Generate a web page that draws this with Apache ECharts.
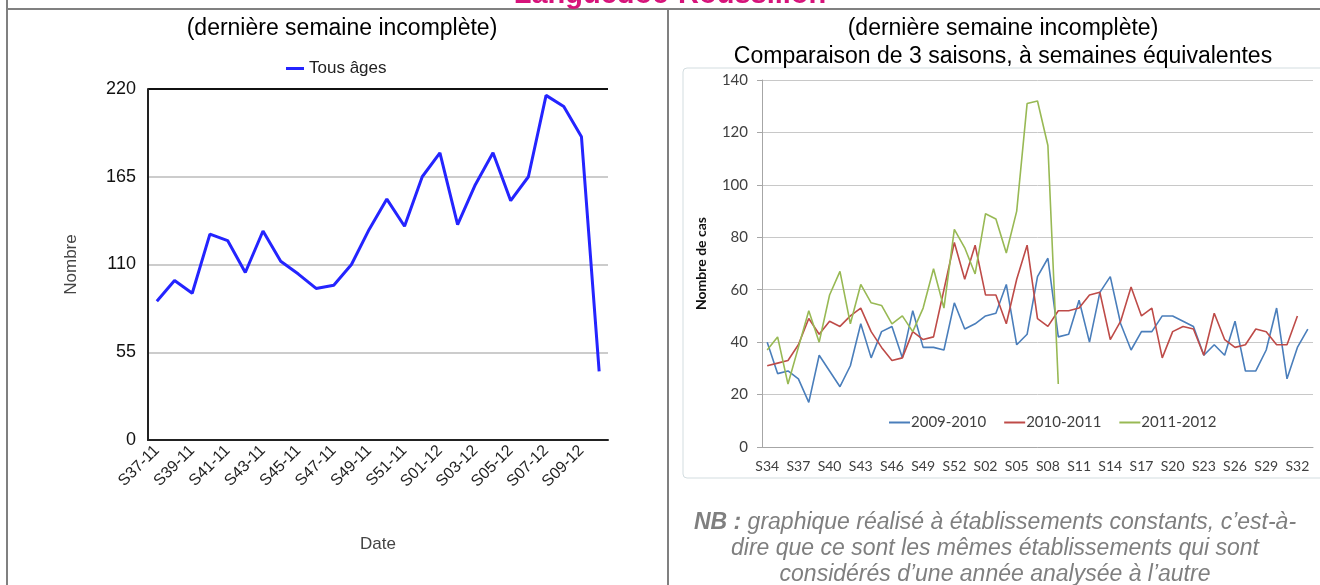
<!DOCTYPE html>
<html>
<head>
<meta charset="utf-8">
<script src="https://cdn.jsdelivr.net/npm/echarts@6/dist/echarts.min.js"></script>
<style>
  html, body { margin: 0; padding: 0; background: #fff; }
  #chart { width: 1320px; height: 585px; }
</style>
</head>
<body>
<div id="chart"></div>
<script>
// --- données graphique gauche (tous âges) ---
const weeksLeft = ['S37-11', 'S38-11', 'S39-11', 'S40-11', 'S41-11', 'S42-11', 'S43-11', 'S44-11',
  'S45-11', 'S46-11', 'S47-11', 'S48-11', 'S49-11', 'S50-11', 'S51-11', 'S52-11',
  'S01-12', 'S02-12', 'S03-12', 'S04-12', 'S05-12', 'S06-12', 'S07-12', 'S08-12', 'S09-12', 'S10-12'];
const tousAges = [87, 100, 92, 129, 125, 105, 131, 112, 104, 95, 97, 110, 132, 151, 134, 165,
  180, 135, 160, 180, 150, 165, 216, 209, 190, 43];
const leftTicks = [0, 55, 110, 165, 220];

// --- données graphique droite (3 saisons) ---
const weeksRight = ['S34', 'S35', 'S36', 'S37', 'S38', 'S39', 'S40', 'S41', 'S42', 'S43', 'S44', 'S45',
  'S46', 'S47', 'S48', 'S49', 'S50', 'S51', 'S52', 'S53', 'S01', 'S02', 'S03', 'S04', 'S05', 'S06',
  'S07', 'S08', 'S09', 'S10', 'S11', 'S12', 'S13', 'S14', 'S15', 'S16', 'S17', 'S18', 'S19', 'S20',
  'S21', 'S22', 'S23', 'S24', 'S25', 'S26', 'S27', 'S28', 'S29', 'S30', 'S31', 'S32', 'S33'];
const saison0910 = [40, 28, 29, 26, 17, 35, 29, 23, 31, 47, 34, 44, 46, 34, 52, 38, 38, 37, 55, 45,
  47, 50, 51, 62, 39, 43, 65, 72, 42, 43, 56, 40, 59, 65, 47, 37, 44, 44, 50, 50, 48, 46, 35, 39,
  35, 48, 29, 29, 37, 53, 26, 38, 45];
const saison1011 = [31, 32, 33, 39, 49, 43, 48, 46, 50, 53, 44, 38, 33, 34, 44, 41, 42, 60, 78, 64,
  77, 58, 58, 47, 64, 77, 49, 46, 52, 52, 53, 58, 59, 41, 48, 61, 50, 53, 34, 44, 46, 45, 35, 51,
  41, 38, 39, 45, 44, 39, 39, 50, null];
const saison1112 = [37, 42, 24, 38, 52, 40, 58, 67, 47, 62, 55, 54, 47, 50, 44, 53, 68, 53, 83, 76,
  66, 89, 87, 74, 90, 131, 132, 115, 24];
const seasonNames = ['2009-2010', '2010-2011', '2011-2012'];
const seasonColors = ['#4a7ebb', '#be4b48', '#98b954'];

const chart = echarts.init(document.getElementById('chart'));

const arial = 'Liberation Sans, Arial, sans-serif';
const calibri = 'Lato, Open Sans, sans-serif';

const option = {
  animation: false,
  backgroundColor: '#fff',
  title: [
    { text: '(dernière semaine incomplète)', left: 337, top: 12, textAlign: 'center',
      textStyle: { fontFamily: arial, fontSize: 23, fontWeight: 'normal', color: '#000' } },
    { text: '(dernière semaine incomplète)', left: 998, top: 12, textAlign: 'center',
      textStyle: { fontFamily: arial, fontSize: 23, fontWeight: 'normal', color: '#000' } },
    { text: 'Comparaison de 3 saisons, à semaines équivalentes', left: 998, top: 40, textAlign: 'center',
      textStyle: { fontFamily: arial, fontSize: 23, fontWeight: 'normal', color: '#000' } }
  ],
  legend: [
    {
      data: ['Tous âges'], left: 281, top: 55, icon: 'rect', itemWidth: 18, itemHeight: 3, itemGap: 8,
      textStyle: { fontFamily: arial, fontSize: 17, color: '#222' }
    },
    {
      data: seasonNames, left: 884, top: 410, icon: 'rect', itemWidth: 21, itemHeight: 2, itemGap: 18,
      textStyle: { fontFamily: calibri, fontSize: 15, color: '#404040', padding: [0, 0, 0, -4] }
    }
  ],
  grid: [
    { left: 148, right: 712, top: 89, bottom: 145 },
    { left: 762, right: 7, top: 80, bottom: 138 }
  ],
  xAxis: [
    {
      gridIndex: 0, type: 'category', data: weeksLeft, boundaryGap: true,
      name: 'Date', nameLocation: 'middle', nameGap: 96,
      nameTextStyle: { fontFamily: arial, fontSize: 17, color: '#444' },
      axisLine: { lineStyle: { color: '#222', width: 2 } },
      axisTick: { alignWithLabel: true, interval: 1, length: 7, lineStyle: { color: '#222', width: 2 } },
      axisLabel: { interval: 1, rotate: 45, fontFamily: arial, fontSize: 16, color: '#222', margin: 8 }
    },
    {
      gridIndex: 1, type: 'category', data: weeksRight, boundaryGap: true,
      axisLine: { lineStyle: { color: '#a6a6a6', width: 1 } },
      axisTick: { interval: 0, length: 5, lineStyle: { color: '#a6a6a6' } },
      axisLabel: { interval: 2, fontFamily: calibri, fontSize: 14, color: '#404040', margin: 12 }
    }
  ],
  yAxis: [
    {
      gridIndex: 0, type: 'value', min: leftTicks[0], max: leftTicks[leftTicks.length - 1], interval: 55,
      name: 'Nombre', nameLocation: 'middle', nameGap: 68,
      nameTextStyle: { fontFamily: arial, fontSize: 17, color: '#444' },
      axisLine: { show: true, lineStyle: { color: '#222', width: 2 } },
      axisTick: { show: false },
      axisLabel: { fontFamily: arial, fontSize: 18, color: '#111', margin: 12 },
      splitLine: { lineStyle: { color: ['#cccccc', '#cccccc', '#cccccc', '#cccccc', '#111'], width: 2 } }
    },
    {
      gridIndex: 1, type: 'value', min: 0, max: 140, interval: 20,
      name: 'Nombre de cas', nameLocation: 'middle', nameGap: 54,
      nameTextStyle: { fontFamily: calibri, fontSize: 14, fontWeight: 'bold', color: '#111' },
      axisLine: { show: true, lineStyle: { color: '#a6a6a6' } },
      axisTick: { show: true, length: 5, lineStyle: { color: '#a6a6a6' } },
      axisLabel: { fontFamily: calibri, fontSize: 15, color: '#404040', margin: 14 },
      splitLine: { lineStyle: { color: '#c8c8c8', width: 1 } }
    }
  ],
  series: [
    {
      name: 'Tous âges', type: 'line', xAxisIndex: 0, yAxisIndex: 0, data: tousAges,
      showSymbol: false, color: '#2424ff', lineStyle: { width: 3, color: '#2424ff' }
    },
    ...seasonNames.map((name, i) => ({
      name: name, type: 'line', xAxisIndex: 1, yAxisIndex: 1,
      data: [saison0910, saison1011, saison1112][i],
      showSymbol: false, color: seasonColors[i],
      lineStyle: { width: 1.6, color: seasonColors[i] }
    }))
  ],
  graphic: [
    // cadre du tableau
    { type: 'line', shape: { x1: 7, y1: 0, x2: 7, y2: 585 }, style: { stroke: '#808080', lineWidth: 2 } },
    { type: 'line', shape: { x1: 7, y1: 9, x2: 1320, y2: 9 }, style: { stroke: '#808080', lineWidth: 2 } },
    { type: 'line', shape: { x1: 668, y1: 9, x2: 668, y2: 585 }, style: { stroke: '#808080', lineWidth: 2 } },
    // titre coupé en haut
    {
      type: 'text', x: 670, y: -5, z: 10,
      style: { text: 'Languedoc-Roussillon', font: 'bold 29px Liberation Sans, Arial, sans-serif',
        fill: '#d6137a', align: 'center', verticalAlign: 'middle' }
    },
    // zone du graphique Excel
    {
      type: 'rect', z: -1, shape: { x: 683, y: 68, width: 660, height: 410, r: 4 },
      style: { fill: '#fff', stroke: '#d3dde0', lineWidth: 1 }
    },
    // note
    {
      type: 'text', x: 995, y: 510,
      style: {
        text: '{b|NB :} graphique réalisé à établissements constants, c’est-à-\ndire que ce sont les mêmes établissements qui sont\nconsidérés d’une année analysée à l’autre',
        font: 'italic 23px Liberation Sans, Arial, sans-serif', fill: '#7f7f7f',
        align: 'center', verticalAlign: 'top', lineHeight: 26,
        rich: { b: { font: 'italic bold 23px Liberation Sans, Arial, sans-serif', fill: '#7f7f7f', lineHeight: 26 } }
      }
    }
  ]
};

chart.setOption(option);
</script>
</body>
</html>
